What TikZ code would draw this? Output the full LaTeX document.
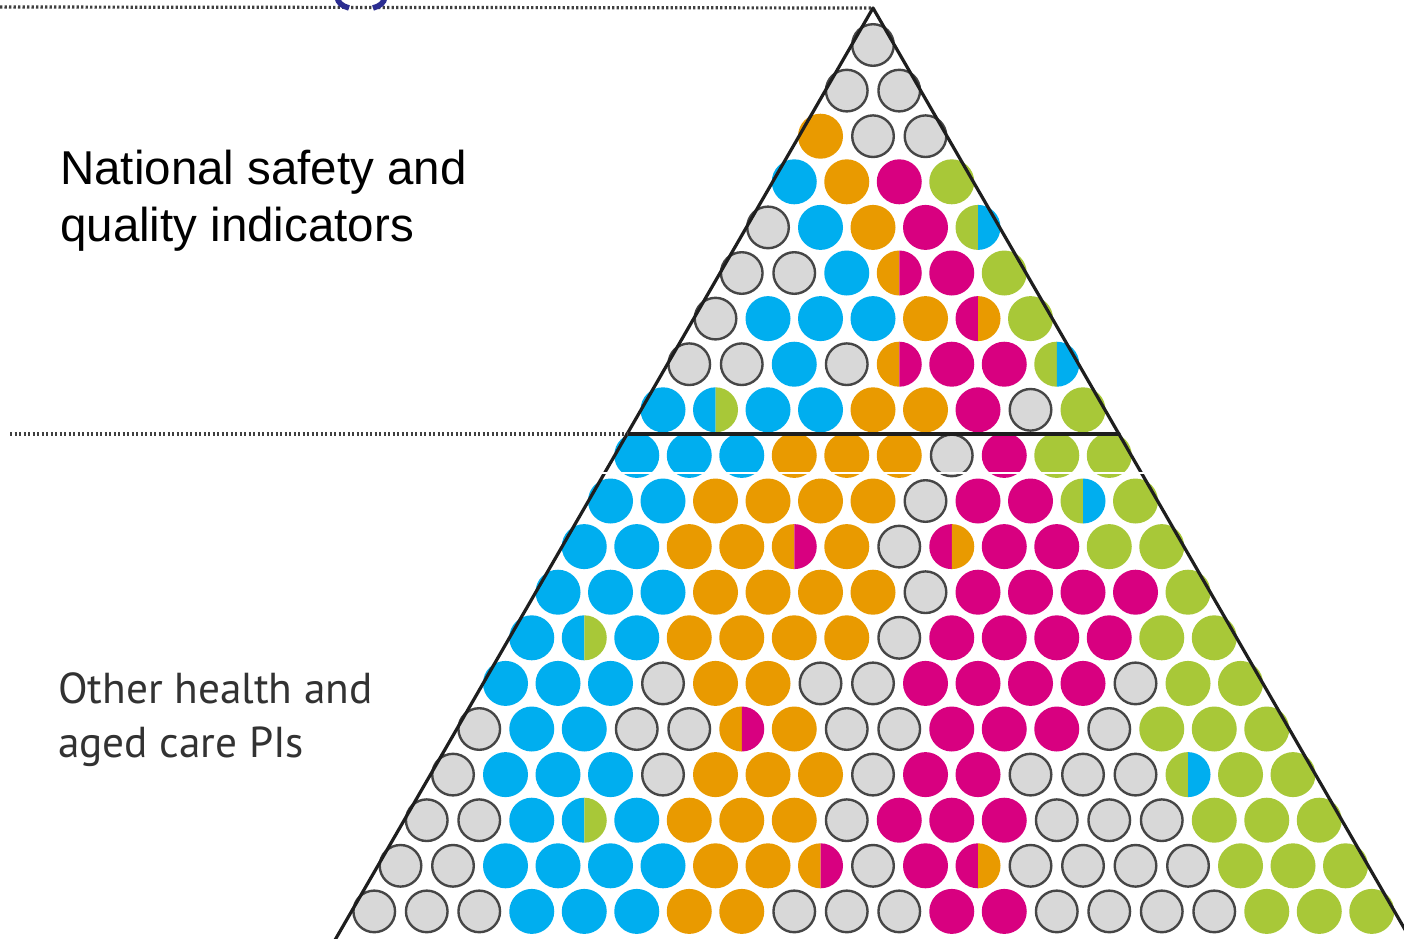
\documentclass[tikz,border=0pt]{standalone}
\usepackage{fontspec}
\newfontfamily\arialf{Liberation Sans}
\newfontfamily\humanf{PT Sans}
\definecolor{cB}{RGB}{0,174,239}
\definecolor{cO}{RGB}{233,154,0}
\definecolor{cM}{RGB}{216,0,128}
\definecolor{cL}{RGB}{168,200,56}
\definecolor{cG}{RGB}{216,216,216}
\definecolor{cGline}{RGB}{70,70,70}
\definecolor{edgecol}{RGB}{30,30,30}
\definecolor{glyphblue}{RGB}{43,45,145}
\definecolor{othertext}{RGB}{50,50,50}
\tikzset{
  greydisc/.style={fill=cG,draw=cGline,line width=2.4pt},
  edgeline/.style={draw=edgecol,line width=3.2pt,line cap=round,line join=round},
  dotline/.style={draw=black!75,line width=3.2pt,dash pattern=on 2.4pt off 2.1pt},
  glyph/.style={draw=glyphblue,line width=5.5pt},
  gapline/.style={draw=white,line width=1.6pt},
}
\def\pyrdiscB#1#2\relax{%
  \if#1G%
    \path[greydisc] (\xx,\yy) circle[radius=20.8];%
  \else
    \if#1#2%
      \fill[c#1] (\xx,\yy) circle[radius=22.5];%
    \else
      \fill[c#1] (\xx,\yy) ++(0,-22.5) arc[start angle=-90,end angle=-270,radius=22.5] -- cycle;%
      \fill[c#2] (\xx,\yy) ++(0,-22.5) arc[start angle=-90,end angle=90,radius=22.5] -- cycle;%
    \fi
  \fi}
\newcommand\pyrdisc[1]{\expandafter\pyrdiscB#1\relax}
\begin{document}
\begin{tikzpicture}[x=1pt,y=-1pt]
\useasboundingbox (0,0) rectangle (1404,938);
\fill[white] (0,0) rectangle (1404,938);
% discs
\foreach \n/\lst in {
 1/{GG},
 2/{GG,GG},
 3/{OO,GG,GG},
 4/{BB,OO,MM,LL},
 5/{GG,BB,OO,MM,LB},
 6/{GG,GG,BB,OM,MM,LL},
 7/{GG,BB,BB,BB,OO,MO,LL},
 8/{GG,GG,BB,GG,OM,MM,MM,LB},
 9/{BB,BL,BB,BB,OO,OO,MM,GG,LL},
 10/{BB,BB,BB,OO,OO,OO,GG,MM,LL,LL},
 11/{BB,BB,OO,OO,OO,OO,GG,MM,MM,LB,LL},
 12/{BB,BB,OO,OO,OM,OO,GG,MO,MM,MM,LL,LL},
 13/{BB,BB,BB,OO,OO,OO,OO,GG,MM,MM,MM,MM,LL},
 14/{BB,BL,BB,OO,OO,OO,OO,GG,MM,MM,MM,MM,LL,LL},
 15/{BB,BB,BB,GG,OO,OO,GG,GG,MM,MM,MM,MM,GG,LL,LL},
 16/{GG,BB,BB,GG,GG,OM,OO,GG,GG,MM,MM,MM,GG,LL,LL,LL},
 17/{GG,BB,BB,BB,GG,OO,OO,OO,GG,MM,MM,GG,GG,GG,LB,LL,LL},
 18/{GG,GG,BB,BL,BB,OO,OO,OO,GG,MM,MM,MM,GG,GG,GG,LL,LL,LL},
 19/{GG,GG,BB,BB,BB,BB,OO,OO,OM,GG,MM,MO,GG,GG,GG,GG,LL,LL,LL},
 20/{GG,GG,GG,BB,BB,BB,OO,OO,GG,GG,GG,MM,MM,GG,GG,GG,GG,LL,LL,LL}} {
  \foreach \c [count=\i] in \lst {
    \pgfmathsetmacro\xx{873+(\i-(\n+1)/2)*52.5}
    \pgfmathsetmacro\yy{45+(\n-1)*45.6}
    \pyrdisc{\c}
  }
}
% pyramid outline
\coordinate (apex) at (873,8);
\coordinate (bl) at (335,940);
\coordinate (br) at (1411,940);
\coordinate (ml) at (627,434);
\coordinate (mr) at (1119,434);
\coordinate (topleft) at (0,7);
\coordinate (midleft) at (10,434);
\coordinate (gapL) at (586,473);
\coordinate (gapR) at (1147,473);
\draw[edgeline] (bl) -- (apex) -- (br);
\draw[edgeline] (ml) -- (mr);
\draw[dotline] (topleft) -- (apex);
\draw[dotline] (midleft) -- (ml);
\draw[gapline] (gapL) -- (gapR);
% cut-off blue glyph at the top
\coordinate (g1a) at (337,-3);
\coordinate (g1b) at (349,8);
\coordinate (g2a) at (385,-3);
\coordinate (g2b) at (373,8);
\draw[glyph] (g1a) .. controls (338,3) and (342,6) .. (g1b);
\draw[glyph] (g2a) .. controls (384,3) and (380,6) .. (g2b);
% labels
\node[anchor=base west,align=left,inner sep=0pt,font=\arialf\fontsize{47.5}{57}\selectfont] (nat) at (60,241) {National safety and\\quality indicators};
\node[anchor=base west,align=left,inner sep=0pt,text=othertext,font=\humanf\fontsize{43.3}{54}\selectfont] (other) at (58,757) {Other health and\\aged care PIs};
\end{tikzpicture}
\end{document}
